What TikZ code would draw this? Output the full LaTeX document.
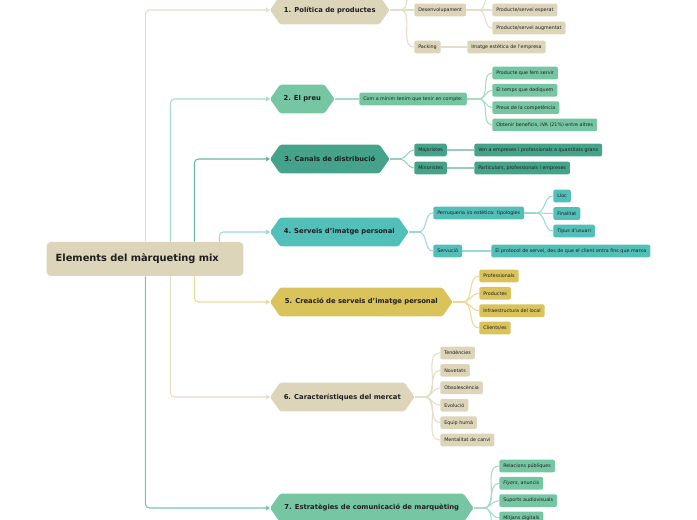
\documentclass[tikz,border=0pt]{standalone}
\usepackage{fontspec}
\setmainfont{DejaVu Sans}
\usetikzlibrary{arrows.meta,calc,backgrounds}
\definecolor{beige}{HTML}{DCD5B9}
\definecolor{beigeln}{HTML}{E4DEC8}
\definecolor{menta}{HTML}{76C6A4}
\definecolor{mentaln}{HTML}{A6DBC5}
\definecolor{verd}{HTML}{45A38B}
\definecolor{verdln}{HTML}{96CDBF}
\definecolor{turq}{HTML}{52BFB9}
\definecolor{turqln}{HTML}{9ADAD6}
\definecolor{groc}{HTML}{D9C35A}
\definecolor{grocln}{HTML}{E8DA95}
\definecolor{tinta}{HTML}{1E1E1E}
\tikzset{
  arrel/.style={fill=beige, rounded corners=3pt, text width=134pt, align=left,
    inner xsep=6.75pt, minimum height=25.5pt, font=\fontsize{7.4}{8}\selectfont\bfseries},
  tema/.style={anchor=west, minimum height=21pt, inner xsep=0pt,
    font=\fontsize{5.1}{6}\selectfont\bfseries},
  fulla/.style={anchor=west, fill=#1, rounded corners=1.5pt, inner xsep=3pt,
    inner ysep=0pt, minimum height=9.5pt, font=\fontsize{3.6}{4}\selectfont},
  enllac/.style={draw=#1, line width=0.8pt, rounded corners=3pt,
    -{Triangle[length=3pt,width=3.5pt]}},
  branca/.style={draw=#1, line width=0.8pt},
}
\begin{document}
\begin{tikzpicture}[x=0.75pt,y=-0.75pt,every node/.append style={text=tinta}]
  \useasboundingbox (0,0) rectangle (697,520);
  \clip (0,0) rectangle (697,520);

  % arrel i temes
  \node[arrel] (arrel) at (145,259) {Elements del màrqueting mix};
  \node[tema, minimum width=89.25pt] (p1) at (270,10) {1. Política de productes};
  \node[tema, minimum width=48pt] (p2) at (270,99) {2. El preu};
  \node[tema, minimum width=89.25pt] (p3) at (270,159) {3. Canals de distribució};
  \node[tema, minimum width=103.5pt] (p4) at (270,232) {4. Serveis d'imatge personal};
  \node[tema, minimum width=136.5pt] (p5) at (270,302) {5. Creació de serveis d'imatge personal};
  \node[tema, minimum width=108pt] (p6) at (270,397) {6. Característiques del mercat};
  \node[tema, minimum width=152.25pt] (p7) at (270,508) {7. Estratègies de comunicació de marquèting};

  \begin{pgfonlayer}{background}
    \foreach \n/\c in {p1/beige,p2/menta,p3/verd,p4/turq,p5/groc,p6/beige,p7/menta}{
      \fill[\c, rounded corners=1pt] (\n.west) -- ([xshift=7.5pt]\n.north west)
        -- ([xshift=-7.5pt]\n.north east) -- (\n.east)
        -- ([xshift=-7.5pt]\n.south east) -- ([xshift=7.5pt]\n.south west) -- cycle;
    }
  \end{pgfonlayer}

  \draw[enllac=beigeln] ($(arrel.north west)+(99,0)$) |- (p1.west);
  \draw[enllac=mentaln] ($(arrel.north west)+(124,0)$) |- (p2.west);
  \draw[enllac=verd!80] ($(arrel.north west)+(148,0)$) |- (p3.west);
  \draw[enllac=turqln] ($(arrel.north west)+(173,0)$) |- (p4.west);
  \draw[enllac=grocln] ($(arrel.south west)+(148,0)$) |- (p5.west);
  \draw[enllac=beigeln] ($(arrel.south west)+(124,0)$) |- (p6.west);
  \draw[enllac=menta] ($(arrel.south west)+(99,0)$) |- (p7.west);

  % 1. Politica de productes
  \coordinate (b1x) at (414,-28);
  \node[fulla=beige] (b1a) at (414,10) {Desenvolupament};
  \coordinate (b1ax) at (492,-8);
  \node[fulla=beige] (b1a1) at (492,10) {Producte/servei esperat};
  \node[fulla=beige] (b1a2) at (492,28) {Producte/servei augmentat};
  \node[fulla=beige] (b1b) at (414,47) {Packing};
  \node[fulla=beige] (b1b1) at (467,47) {Imatge estètica de l'empresa};
  \draw[branca=beigeln] (p1.east) -- ++(10,0) coordinate (f1);
  \foreach \c in {b1x,b1a,b1b} \draw[branca=beigeln] (f1) to[out=0,in=180] (\c);
  \draw[branca=beigeln] (b1a.east) -- ++(12,0) coordinate (f1a);
  \foreach \c in {b1ax,b1a1.west,b1a2.west} \draw[branca=beigeln] (f1a) to[out=0,in=180] (\c);
  \draw[branca=beigeln] (b1b.east) -- (b1b1.west);

  % 2. El preu
  \node[fulla=menta] (b2a) at (359,99) {Com a mínim tenim que tenir en compte:};
  \foreach \t [count=\i] in {Producte que fem servir,El temps que dediquem,
      Preus de la competència,{Obtenir beneficis, IVA (21\%) entre altres}}
    \node[fulla=menta] (b2a\i) at (492,{73+17.3*(\i-1)}) {\t};
  \draw[branca=mentaln] (p2.east) -- (b2a.west);
  \draw[branca=mentaln] (b2a.east) -- ++(12,0) coordinate (f2);
  \foreach \i in {1,...,4} \draw[branca=mentaln] (f2) to[out=0,in=180] (b2a\i.west);

  % 3. Canals de distribucio
  \node[fulla=verd] (b3a) at (414,150) {Majoristes};
  \node[fulla=verd] (b3a1) at (474,150) {Ven a empreses i professionals a quantitats grans};
  \node[fulla=verd] (b3b) at (414,168) {Minoristes};
  \node[fulla=verd] (b3b1) at (474,168) {Particulars, professionals i empreses};
  \draw[branca=verdln] (p3.east) -- ++(10,0) coordinate (f3);
  \foreach \c in {b3a,b3b} \draw[branca=verdln] (f3) to[out=0,in=180] (\c.west);
  \draw[branca=verdln] (b3a.east) -- (b3a1.west);
  \draw[branca=verdln] (b3b.east) -- (b3b1.west);

  % 4. Serveis d'imatge personal
  \node[fulla=turq] (b4a) at (433,213) {Perruqueria i/o estètica: tipologies};
  \foreach \t [count=\i] in {Lloc,Finalitat,Tipus d'usuari}
    \node[fulla=turq] (b4a\i) at (553,{196+17.5*(\i-1)}) {\t};
  \node[fulla=turq] (b4b) at (433,251) {Servució};
  \node[fulla=turq] (b4b1) at (491,251) {El protocol de servei, des de que el client entra fins que marxa};
  \draw[branca=turqln] (p4.east) -- ++(10,0) coordinate (f4);
  \foreach \c in {b4a,b4b} \draw[branca=turqln] (f4) to[out=0,in=180] (\c.west);
  \draw[branca=turqln] (b4a.east) -- ++(12,0) coordinate (f4a);
  \foreach \i in {1,...,3} \draw[branca=turqln] (f4a) to[out=0,in=180] (b4a\i.west);
  \draw[branca=turqln] (b4b.east) -- (b4b1.west);

  % 5. Creacio de serveis
  \foreach \t [count=\i] in {Professionals,Productes,Infraestructura del local,Clients/es}
    \node[fulla=groc] (b5\i) at (479,{276+17.33*(\i-1)}) {\t};
  \draw[branca=grocln] (p5.east) -- ++(10,0) coordinate (f5);
  \foreach \i in {1,...,4} \draw[branca=grocln] (f5) to[out=0,in=180] (b5\i.west);

  % 6. Caracteristiques del mercat
  \foreach \t [count=\i] in {Tendències,Novetats,Obsolescència,Evolució,Equip humà,Mentalitat de canvi}
    \node[fulla=beige] (b6\i) at (440,{353+17.4*(\i-1)}) {\t};
  \draw[branca=beigeln] (p6.east) -- ++(10,0) coordinate (f6);
  \foreach \i in {1,...,6} \draw[branca=beigeln] (f6) to[out=0,in=180] (b6\i.west);

  % 7. Estrategies de comunicacio
  \foreach \t [count=\i] in {Relacions públiques,{\textit{Flyers}, anuncis},Suports audiovisuals,Mitjans digitals}
    \node[fulla=menta] (b7\i) at (499,{466+17.3*(\i-1)}) {\t};
  \coordinate (b7x) at (499,545);
  \draw[branca=mentaln] (p7.east) -- ++(10,0) coordinate (f7);
  \foreach \c in {b71.west,b72.west,b73.west,b74.west,b7x} \draw[branca=mentaln] (f7) to[out=0,in=180] (\c);
\end{tikzpicture}
\end{document}
